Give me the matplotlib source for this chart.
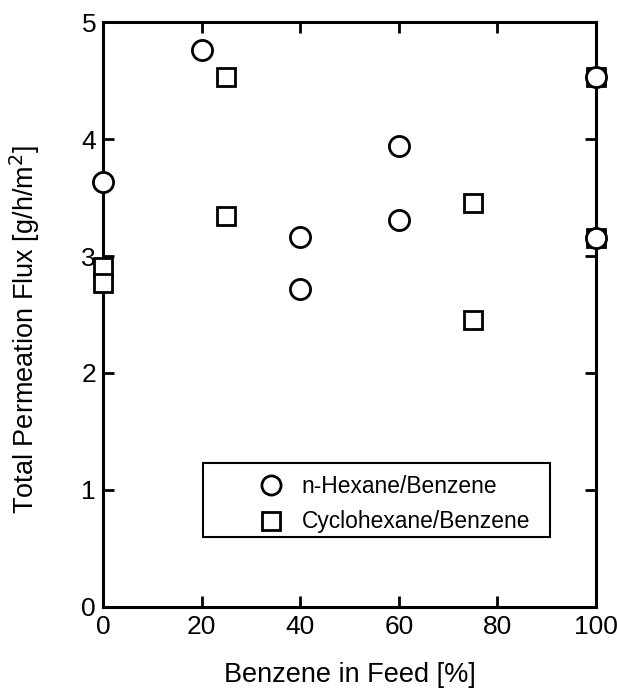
import matplotlib
matplotlib.use("Agg")
import matplotlib.pyplot as plt
from matplotlib.patches import Rectangle

plt.rcParams['font.family'] = ['Liberation Sans', 'DejaVu Sans']

# n-Hexane/Benzene
hex_x = [0, 20, 40, 40, 60, 60, 100, 100]
hex_y = [3.63, 4.76, 3.16, 2.72, 3.94, 3.31, 4.53, 3.15]
# Cyclohexane/Benzene
cyc_x = [0, 0, 25, 25, 75, 75, 100, 100]
cyc_y = [2.91, 2.77, 4.53, 3.34, 3.45, 2.45, 4.53, 3.15]

fig = plt.figure(figsize=(6.17, 6.92), dpi=100)
ax = fig.add_axes([0.167, 0.123, 0.799, 0.845])

sq, = ax.plot(cyc_x, cyc_y, 's', ms=13.5, mfc='white', mec='black', mew=2,
              clip_on=False, zorder=3, label='Cyclohexane/Benzene')
ci, = ax.plot(hex_x, hex_y, 'o', ms=14.5, mfc='white', mec='black', mew=2,
              clip_on=False, zorder=4, label='n-Hexane/Benzene')

ax.set_xlim(0, 100)
ax.set_ylim(0, 5)
ax.set_xticks([0, 20, 40, 60, 80, 100])
ax.set_yticks([0, 1, 2, 3, 4, 5])
ax.tick_params(direction='in', length=8, width=2, labelsize=19, top=True, right=True, pad=6)
ax.tick_params(axis='y', pad=5)
for s in ax.spines.values():
    s.set_linewidth(2.2)

ax.set_xlabel('Benzene in Feed [%]', fontsize=19.5)
ax.set_ylabel('Total Permeation Flux [g/h/m$^2$]', fontsize=19.5)
ax.xaxis.set_label_coords(0.5, -0.094)
ax.yaxis.set_label_coords(-0.124, 0.474)

# legend box
ax.add_patch(Rectangle((0.203, 0.12), 0.704, 0.126, transform=ax.transAxes,
                       fill=False, lw=1.5, ec='black', zorder=5))
ax.legend([ci, sq], ['n-Hexane/Benzene', 'Cyclohexane/Benzene'], loc='upper left',
          bbox_to_anchor=(0.309, 0.226), frameon=False, fontsize=16.4, borderpad=0,
          borderaxespad=0, handlelength=1.35, handletextpad=0.69, labelspacing=0.56,
          markerscale=0.95)

fig.savefig('out.png', dpi=100)
